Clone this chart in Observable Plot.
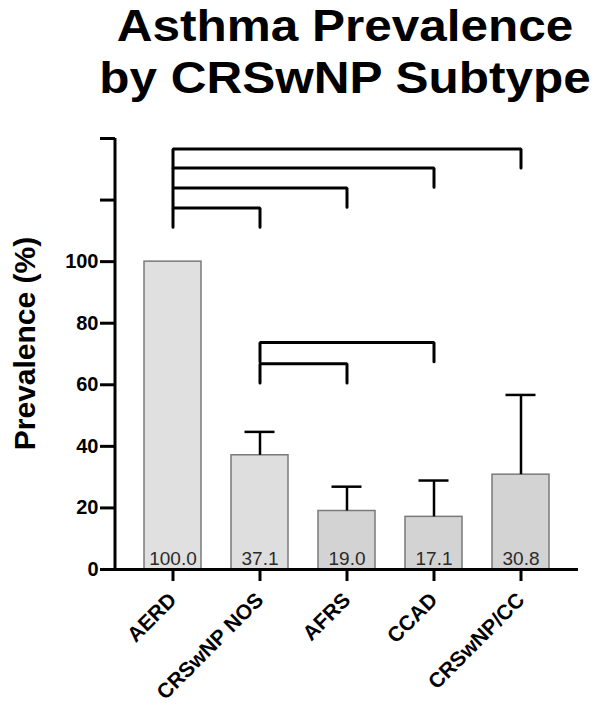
<!DOCTYPE html>
<html>
<head>
<meta charset="utf-8">
<script src="https://cdn.jsdelivr.net/npm/d3@7"></script>
<script src="https://cdn.jsdelivr.net/npm/@observablehq/plot@0.6"></script>
<style>
  html, body { margin: 0; padding: 0; background: #fff; }
  body { font-family: "Liberation Sans", Arial, sans-serif; width: 600px; }
  #title { width: 600px; height: 102px; box-sizing: border-box; padding-left: 90px; overflow: visible; }
  #title div { font-weight: bold; font-size: 45px; line-height: 52px; text-align: center; color: #000;
               transform: scaleX(1.1); transform-origin: 255px 0; white-space: nowrap; }
  #chart svg { display: block; }
</style>
</head>
<body>
<div id="title"><div>Asthma Prevalence<br>by CRSwNP Subtype</div></div>
<div id="chart"></div>
<script>
// ---- data ----
const categories = ["AERD", "CRSwNP NOS", "AFRS", "CCAD", "CRSwNP/CC"];
const prevalence = [100.0, 37.1, 19.0, 17.1, 30.8];
const errorUpper = [null, 44.7, 26.9, 28.9, 56.7];
const yTicks = [0, 20, 40, 60, 80, 100, 120, 140];
const yLabeledMax = 100;
const yAxisTop = 140;
const bracketFrom = ["AERD", "AERD", "AERD", "AERD", "CRSwNP NOS", "CRSwNP NOS"];
const bracketTo = ["CRSwNP NOS", "AFRS", "CCAD", "CRSwNP/CC", "AFRS", "CCAD"];
const bracketLevel = [117.4, 123.9, 130.4, 136.6, 66.8, 73.7];
const bracketLeg = 6.2;

// ---- styles ----
const barFills = ["#e0e0e0", "#dedede", "#d3d3d3", "#d3d3d3", "#d3d3d3"];

const rows = categories.map((c, i) => ({cat: c, value: prevalence[i], upper: errorUpper[i]}));
const errRows = rows.filter(d => d.upper != null);
const bracketPts = bracketFrom.flatMap((f, i) => [
  {id: i, x: f, y: bracketLevel[i] - bracketLeg},
  {id: i, x: f, y: bracketLevel[i]},
  {id: i, x: bracketTo[i], y: bracketLevel[i]},
  {id: i, x: bracketTo[i], y: bracketLevel[i] - bracketLeg}
]);

const yAxisLine = (index, scales, values, dims) => {
  const l = document.createElementNS("http://www.w3.org/2000/svg", "line");
  l.setAttribute("x1", dims.marginLeft);
  l.setAttribute("x2", dims.marginLeft);
  l.setAttribute("y1", scales.y(0) + 1.5);
  l.setAttribute("y2", scales.y(yAxisTop));
  l.setAttribute("stroke", "#000");
  l.setAttribute("stroke-width", 3);
  return l;
};

const plot = Plot.plot({
  width: 600,
  height: 607,
  marginLeft: 115,
  marginRight: 22,
  marginTop: 36,
  marginBottom: 140,
  style: {fontFamily: "'Liberation Sans', Arial, sans-serif", color: "#000", background: "#fff"},
  x: {domain: categories, paddingInner: 0.345, paddingOuter: 0.333, label: null},
  y: {domain: [0, yAxisTop], label: null},
  color: {domain: categories, range: barFills},
  marks: [
    Plot.barY(rows, {x: "cat", y: "value", fill: "cat", stroke: "#7a7a7a", strokeWidth: 1.5}),
    Plot.ruleX(errRows, {x: "cat", y1: "value", y2: "upper", stroke: "#000", strokeWidth: 2.5}),
    Plot.tickY(errRows, {x: "cat", y: "upper", stroke: "#000", strokeWidth: 2.5, insetLeft: 13.5, insetRight: 13.5}),
    Plot.text(rows, {x: "cat", y: 0, text: d => d.value.toFixed(1), lineAnchor: "bottom", dy: -5, fontSize: 19, fill: "#2a2a2a"}),
    Plot.line(bracketPts, {x: "x", y: "y", z: "id", stroke: "#000", strokeWidth: 3, strokeLinejoin: "miter", curve: "linear"}),
    Plot.ruleY([0], {stroke: "#000", strokeWidth: 3}),
    yAxisLine,
    Plot.axisY(yTicks, {tickSize: 15, tickPadding: 2, strokeWidth: 3, fontSize: 20, fontWeight: "bold",
      tickFormat: d => d <= yLabeledMax ? String(d) : "", label: null}),
    Plot.axisX({tickSize: 12, tickPadding: 15, strokeWidth: 3, tickRotate: -45, fontSize: 21, fontWeight: "bold", label: null}),
    Plot.text(["Prevalence (%)"], {frameAnchor: "left", rotate: -90, textAnchor: "middle", lineAnchor: "middle",
      dx: -90.6, dy: -10.5, fontSize: 30, fontWeight: "bold", fill: "#000"})
  ]
});
document.getElementById("chart").appendChild(plot);
</script>
</body>
</html>
